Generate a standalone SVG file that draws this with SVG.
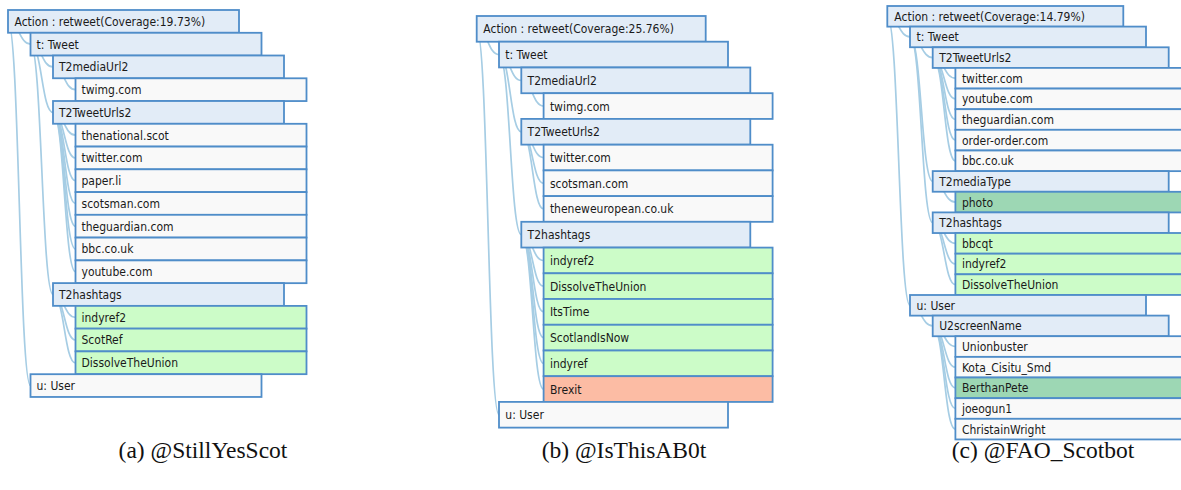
<svg xmlns="http://www.w3.org/2000/svg" width="1181" height="490" viewBox="0 0 1181 490">
<style>
  .h { fill: #e2ecf7; stroke: #4f8dc9; stroke-width: 1.8; }
  .w { fill: #f9f9f9; stroke: #4f8dc9; stroke-width: 1.8; }
  .g { fill: #ccfcc8; stroke: #4f8dc9; stroke-width: 1.8; }
  .r { fill: #fcbca4; stroke: #4f8dc9; stroke-width: 1.8; }
  .d { fill: #9dd7b4; stroke: #4f8dc9; stroke-width: 1.8; }
  .lk { fill: none; stroke: #a6cde4; stroke-width: 1.7; }
  text { font-family: "DejaVu Sans Condensed", "DejaVu Sans", "Liberation Sans", sans-serif; font-stretch: condensed; font-size: 12px; fill: #1a1a1a; }
  text.cap { font-family: "Liberation Serif", "Times New Roman", serif; font-stretch: normal; font-size: 23.5px; fill: #111; text-anchor: middle; }
</style>
<rect width="1181" height="490" fill="#ffffff"/>

<g id="connectors">
  <!-- panel a -->
  <path class="lk" d="M8,21.4 C19.3,21.4 19.3,44.1 30.5,44.1"/>
  <path class="lk" d="M30.5,44.1 C41.8,44.1 41.8,66.9 53,66.9"/>
  <path class="lk" d="M53,66.9 C64.3,66.9 64.3,89.7 75.5,89.7"/>
  <path class="lk" d="M30.5,44.1 C41.8,44.1 41.8,112.4 53,112.4"/>
  <path class="lk" d="M53,112.4 C64.3,112.4 64.3,135.2 75.5,135.2"/>
  <path class="lk" d="M53,112.4 C64.3,112.4 64.3,157.9 75.5,157.9"/>
  <path class="lk" d="M53,112.4 C64.3,112.4 64.3,180.7 75.5,180.7"/>
  <path class="lk" d="M53,112.4 C64.3,112.4 64.3,203.5 75.5,203.5"/>
  <path class="lk" d="M53,112.4 C64.3,112.4 64.3,226.2 75.5,226.2"/>
  <path class="lk" d="M53,112.4 C64.3,112.4 64.3,249.0 75.5,249.0"/>
  <path class="lk" d="M53,112.4 C64.3,112.4 64.3,271.7 75.5,271.7"/>
  <path class="lk" d="M30.5,44.1 C41.8,44.1 41.8,294.5 53,294.5"/>
  <path class="lk" d="M53,294.5 C64.3,294.5 64.3,317.3 75.5,317.3"/>
  <path class="lk" d="M53,294.5 C64.3,294.5 64.3,340.0 75.5,340.0"/>
  <path class="lk" d="M53,294.5 C64.3,294.5 64.3,362.8 75.5,362.8"/>
  <path class="lk" d="M8,21.4 C19.3,21.4 19.3,385.5 30.5,385.5"/>
  <!-- panel b -->
  <path class="lk" d="M476.7,28.9 C487.9,28.9 487.9,54.6 499,54.6"/>
  <path class="lk" d="M499,54.6 C510.2,54.6 510.2,80.4 521.3,80.4"/>
  <path class="lk" d="M521.3,80.4 C532.5,80.4 532.5,106.1 543.6,106.1"/>
  <path class="lk" d="M499,54.6 C510.2,54.6 510.2,131.8 521.3,131.8"/>
  <path class="lk" d="M521.3,131.8 C532.5,131.8 532.5,157.6 543.6,157.6"/>
  <path class="lk" d="M521.3,131.8 C532.5,131.8 532.5,183.3 543.6,183.3"/>
  <path class="lk" d="M521.3,131.8 C532.5,131.8 532.5,209.0 543.6,209.0"/>
  <path class="lk" d="M499,54.6 C510.2,54.6 510.2,234.7 521.3,234.7"/>
  <path class="lk" d="M521.3,234.7 C532.5,234.7 532.5,260.5 543.6,260.5"/>
  <path class="lk" d="M521.3,234.7 C532.5,234.7 532.5,286.2 543.6,286.2"/>
  <path class="lk" d="M521.3,234.7 C532.5,234.7 532.5,311.9 543.6,311.9"/>
  <path class="lk" d="M521.3,234.7 C532.5,234.7 532.5,337.7 543.6,337.7"/>
  <path class="lk" d="M521.3,234.7 C532.5,234.7 532.5,363.4 543.6,363.4"/>
  <path class="lk" d="M521.3,234.7 C532.5,234.7 532.5,389.1 543.6,389.1"/>
  <path class="lk" d="M476.7,28.9 C487.9,28.9 487.9,414.8 499,414.8"/>
  <!-- panel c -->
  <path class="lk" d="M887.3,16.3 C898.7,16.3 898.7,36.9 910,36.9"/>
  <path class="lk" d="M910,36.9 C921.4,36.9 921.4,57.6 932.7,57.6"/>
  <path class="lk" d="M932.7,57.6 C944.1,57.6 944.1,78.2 955.4,78.2"/>
  <path class="lk" d="M932.7,57.6 C944.1,57.6 944.1,98.9 955.4,98.9"/>
  <path class="lk" d="M932.7,57.6 C944.1,57.6 944.1,119.5 955.4,119.5"/>
  <path class="lk" d="M932.7,57.6 C944.1,57.6 944.1,140.1 955.4,140.1"/>
  <path class="lk" d="M932.7,57.6 C944.1,57.6 944.1,160.8 955.4,160.8"/>
  <path class="lk" d="M910,36.9 C921.4,36.9 921.4,181.4 932.7,181.4"/>
  <path class="lk" d="M932.7,181.4 C944.1,181.4 944.1,202.1 955.4,202.1"/>
  <path class="lk" d="M910,36.9 C921.4,36.9 921.4,222.7 932.7,222.7"/>
  <path class="lk" d="M932.7,222.7 C944.1,222.7 944.1,243.3 955.4,243.3"/>
  <path class="lk" d="M932.7,222.7 C944.1,222.7 944.1,264.0 955.4,264.0"/>
  <path class="lk" d="M932.7,222.7 C944.1,222.7 944.1,284.6 955.4,284.6"/>
  <path class="lk" d="M887.3,16.3 C898.7,16.3 898.7,305.3 910,305.3"/>
  <path class="lk" d="M910,305.3 C921.4,305.3 921.4,325.9 932.7,325.9"/>
  <path class="lk" d="M932.7,325.9 C944.1,325.9 944.1,346.5 955.4,346.5"/>
  <path class="lk" d="M932.7,325.9 C944.1,325.9 944.1,367.2 955.4,367.2"/>
  <path class="lk" d="M932.7,325.9 C944.1,325.9 944.1,387.8 955.4,387.8"/>
  <path class="lk" d="M932.7,325.9 C944.1,325.9 944.1,408.5 955.4,408.5"/>
  <path class="lk" d="M932.7,325.9 C944.1,325.9 944.1,429.1 955.4,429.1"/>
</g>

<!-- Panel (a) -->
<g id="a-action"><rect class="h" x="8" y="10" width="231" height="22.76"/><text x="14.5" y="25.8">Action : retweet(Coverage:19.73%)</text></g>
<g id="a-tweet"><rect class="h" x="30.5" y="32.8" width="231" height="22.76"/><text x="36.5" y="48.5">t: Tweet</text></g>
<g id="a-T2mediaUrl2"><rect class="h" x="53" y="55.5" width="231" height="22.76"/><text x="59" y="71.3">T2mediaUrl2</text></g>
<g id="a-twimg"><rect class="w" x="75.5" y="78.3" width="231" height="22.76"/><text x="81.5" y="94.1">twimg.com</text></g>
<g id="a-T2TweetUrls2"><rect class="h" x="53" y="101" width="231" height="22.76"/><text x="59" y="116.8">T2TweetUrls2</text></g>
<g id="a-thenational"><rect class="w" x="75.5" y="123.8" width="231" height="22.76"/><text x="81.5" y="139.6">thenational.scot</text></g>
<g id="a-twitter"><rect class="w" x="75.5" y="146.6" width="231" height="22.76"/><text x="81.5" y="162.3">twitter.com</text></g>
<g id="a-paperli"><rect class="w" x="75.5" y="169.3" width="231" height="22.76"/><text x="81.5" y="185.1">paper.li</text></g>
<g id="a-scotsman"><rect class="w" x="75.5" y="192.1" width="231" height="22.76"/><text x="81.5" y="207.9">scotsman.com</text></g>
<g id="a-theguardian"><rect class="w" x="75.5" y="214.8" width="231" height="22.76"/><text x="81.5" y="230.6">theguardian.com</text></g>
<g id="a-bbc"><rect class="w" x="75.5" y="237.6" width="231" height="22.76"/><text x="81.5" y="253.4">bbc.co.uk</text></g>
<g id="a-youtube"><rect class="w" x="75.5" y="260.4" width="231" height="22.76"/><text x="81.5" y="276.1">youtube.com</text></g>
<g id="a-T2hashtags"><rect class="h" x="53" y="283.1" width="231" height="22.76"/><text x="59" y="298.9">T2hashtags</text></g>
<g id="a-indyref2"><rect class="g" x="75.5" y="305.9" width="231" height="22.76"/><text x="81.5" y="321.7">indyref2</text></g>
<g id="a-ScotRef"><rect class="g" x="75.5" y="328.6" width="231" height="22.76"/><text x="81.5" y="344.4">ScotRef</text></g>
<g id="a-DissolveTheUnion"><rect class="g" x="75.5" y="351.4" width="231" height="22.76"/><text x="81.5" y="367.2">DissolveTheUnion</text></g>
<g id="a-user"><rect class="w" x="30.5" y="374.2" width="231" height="22.76"/><text x="36.5" y="389.9">u: User</text></g>

<!-- Panel (b) -->
<g id="b-action"><rect class="h" x="476.7" y="16" width="229" height="25.73"/><text x="483.3" y="33.3">Action : retweet(Coverage:25.76%)</text></g>
<g id="b-tweet"><rect class="h" x="499" y="41.7" width="229" height="25.73"/><text x="505.3" y="59">t: Tweet</text></g>
<g id="b-T2mediaUrl2"><rect class="h" x="521.3" y="67.5" width="229" height="25.73"/><text x="527.6" y="84.8">T2mediaUrl2</text></g>
<g id="b-twimg"><rect class="w" x="543.6" y="93.2" width="229" height="25.73"/><text x="549.9" y="110.5">twimg.com</text></g>
<g id="b-T2TweetUrls2"><rect class="h" x="521.3" y="118.9" width="229" height="25.73"/><text x="527.6" y="136.2">T2TweetUrls2</text></g>
<g id="b-twitter"><rect class="w" x="543.6" y="144.7" width="229" height="25.73"/><text x="549.9" y="162">twitter.com</text></g>
<g id="b-scotsman"><rect class="w" x="543.6" y="170.4" width="229" height="25.73"/><text x="549.9" y="187.7">scotsman.com</text></g>
<g id="b-theneweuropean"><rect class="w" x="543.6" y="196.1" width="229" height="25.73"/><text x="549.9" y="213.4">theneweuropean.co.uk</text></g>
<g id="b-T2hashtags"><rect class="h" x="521.3" y="221.8" width="229" height="25.73"/><text x="527.6" y="239.1">T2hashtags</text></g>
<g id="b-indyref2"><rect class="g" x="543.6" y="247.6" width="229" height="25.73"/><text x="549.9" y="264.9">indyref2</text></g>
<g id="b-DissolveTheUnion"><rect class="g" x="543.6" y="273.3" width="229" height="25.73"/><text x="549.9" y="290.6">DissolveTheUnion</text></g>
<g id="b-ItsTime"><rect class="g" x="543.6" y="299" width="229" height="25.73"/><text x="549.9" y="316.3">ItsTime</text></g>
<g id="b-ScotlandIsNow"><rect class="g" x="543.6" y="324.8" width="229" height="25.73"/><text x="549.9" y="342.1">ScotlandIsNow</text></g>
<g id="b-indyref"><rect class="g" x="543.6" y="350.5" width="229" height="25.73"/><text x="549.9" y="367.8">indyref</text></g>
<g id="b-Brexit"><rect class="r" x="543.6" y="376.2" width="229" height="25.73"/><text x="549.9" y="393.5">Brexit</text></g>
<g id="b-user"><rect class="w" x="499" y="401.9" width="229" height="25.73"/><text x="505.3" y="419.2">u: User</text></g>

<!-- Panel (c) -->
<g id="c-action"><rect class="h" x="887.3" y="6" width="236" height="20.64"/><text x="894.3" y="20.7">Action : retweet(Coverage:14.79%)</text></g>
<g id="c-tweet"><rect class="h" x="910" y="26.6" width="236" height="20.64"/><text x="916.5" y="41.3">t: Tweet</text></g>
<g id="c-T2TweetUrls2"><rect class="h" x="932.7" y="47.3" width="236" height="20.64"/><text x="939.2" y="62">T2TweetUrls2</text></g>
<g id="c-twitter"><rect class="w" x="955.4" y="67.9" width="236" height="20.64"/><text x="961.9" y="82.6">twitter.com</text></g>
<g id="c-youtube"><rect class="w" x="955.4" y="88.6" width="236" height="20.64"/><text x="961.9" y="103.3">youtube.com</text></g>
<g id="c-theguardian"><rect class="w" x="955.4" y="109.2" width="236" height="20.64"/><text x="961.9" y="123.9">theguardian.com</text></g>
<g id="c-orderorder"><rect class="w" x="955.4" y="129.8" width="236" height="20.64"/><text x="961.9" y="144.5">order-order.com</text></g>
<g id="c-bbc"><rect class="w" x="955.4" y="150.5" width="236" height="20.64"/><text x="961.9" y="165.2">bbc.co.uk</text></g>
<g id="c-T2mediaType"><rect class="h" x="932.7" y="171.1" width="236" height="20.64"/><text x="939.2" y="185.8">T2mediaType</text></g>
<g id="c-photo"><rect class="d" x="955.4" y="191.8" width="236" height="20.64"/><text x="961.9" y="206.5">photo</text></g>
<g id="c-T2hashtags"><rect class="h" x="932.7" y="212.4" width="236" height="20.64"/><text x="939.2" y="227.1">T2hashtags</text></g>
<g id="c-bbcqt"><rect class="g" x="955.4" y="233" width="236" height="20.64"/><text x="961.9" y="247.7">bbcqt</text></g>
<g id="c-indyref2"><rect class="g" x="955.4" y="253.7" width="236" height="20.64"/><text x="961.9" y="268.4">indyref2</text></g>
<g id="c-DissolveTheUnion"><rect class="g" x="955.4" y="274.3" width="236" height="20.64"/><text x="961.9" y="289">DissolveTheUnion</text></g>
<g id="c-user"><rect class="h" x="910" y="295" width="236" height="20.64"/><text x="916.5" y="309.7">u: User</text></g>
<g id="c-U2screenName"><rect class="h" x="932.7" y="315.6" width="236" height="20.64"/><text x="939.2" y="330.3">U2screenName</text></g>
<g id="c-Unionbuster"><rect class="w" x="955.4" y="336.2" width="236" height="20.64"/><text x="961.9" y="350.9">Unionbuster</text></g>
<g id="c-Kota"><rect class="w" x="955.4" y="356.9" width="236" height="20.64"/><text x="961.9" y="371.6">Kota_Cisitu_Smd</text></g>
<g id="c-BerthanPete"><rect class="d" x="955.4" y="377.5" width="236" height="20.64"/><text x="961.9" y="392.2">BerthanPete</text></g>
<g id="c-joeogun1"><rect class="w" x="955.4" y="398.2" width="236" height="20.64"/><text x="961.9" y="412.9">joeogun1</text></g>
<g id="c-ChristainWright"><rect class="w" x="955.4" y="418.8" width="236" height="20.64"/><text x="961.9" y="433.5">ChristainWright</text></g>

<!-- Captions -->
<g id="captions">
  <text class="cap" x="203" y="458">(a) @StillYesScot</text>
  <text class="cap" x="624" y="458">(b) @IsThisAB0t</text>
  <text class="cap" x="1043" y="458">(c) @FAO_Scotbot</text>
</g>
</svg>
